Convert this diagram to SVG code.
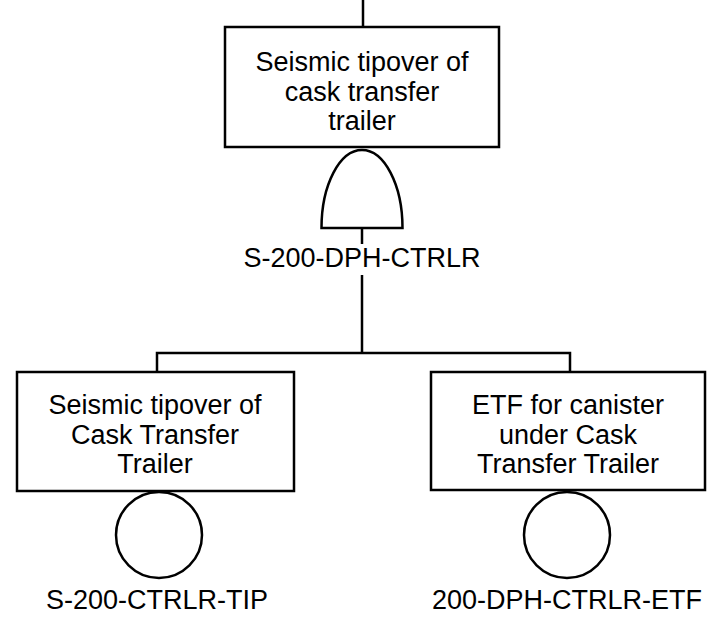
<svg xmlns="http://www.w3.org/2000/svg" width="712" height="624" viewBox="0 0 712 624">
<style>
.s{fill:none;stroke:#000;stroke-width:2.5}
.b{fill:#fff;stroke:#000;stroke-width:2.5}
text{font-family:"Liberation Sans",Arial,sans-serif;font-size:27px;fill:#000;text-anchor:middle}
</style>
<rect width="712" height="624" fill="#fff"/>
<g id="connectors">
<line class="s" x1="363" y1="0" x2="363" y2="27"/>
<line class="s" x1="362" y1="228" x2="362" y2="244"/>
<line class="s" x1="362" y1="275" x2="362" y2="353"/>
<polyline class="s" points="157,372 157,353 570,353 570,372"/>
</g>
<g id="top-event">
<rect class="b" x="225" y="27" width="274" height="120"/>
<text x="362" y="71">Seismic tipover of</text>
<text x="362" y="101">cask transfer</text>
<text x="362" y="130">trailer</text>
</g>
<g id="gate">
<path class="b" d="M321.5,228 A40.5,78 0 0 1 402.5,228 Z"/>
<text x="362" y="267">S-200-DPH-CTRLR</text>
</g>
<g id="event-tip">
<rect class="b" x="17" y="372" width="277" height="119"/>
<text x="155" y="414">Seismic tipover of</text>
<text x="155" y="444">Cask Transfer</text>
<text x="155" y="473">Trailer</text>
<circle class="b" cx="159" cy="535" r="43"/>
<text x="157" y="609">S-200-CTRLR-TIP</text>
</g>
<g id="event-etf">
<rect class="b" x="431" y="372" width="274" height="118"/>
<text x="568" y="414">ETF for canister</text>
<text x="568" y="444">under Cask</text>
<text x="568" y="473">Transfer Trailer</text>
<circle class="b" cx="567" cy="535" r="43"/>
<text x="567" y="609">200-DPH-CTRLR-ETF</text>
</g>
</svg>
